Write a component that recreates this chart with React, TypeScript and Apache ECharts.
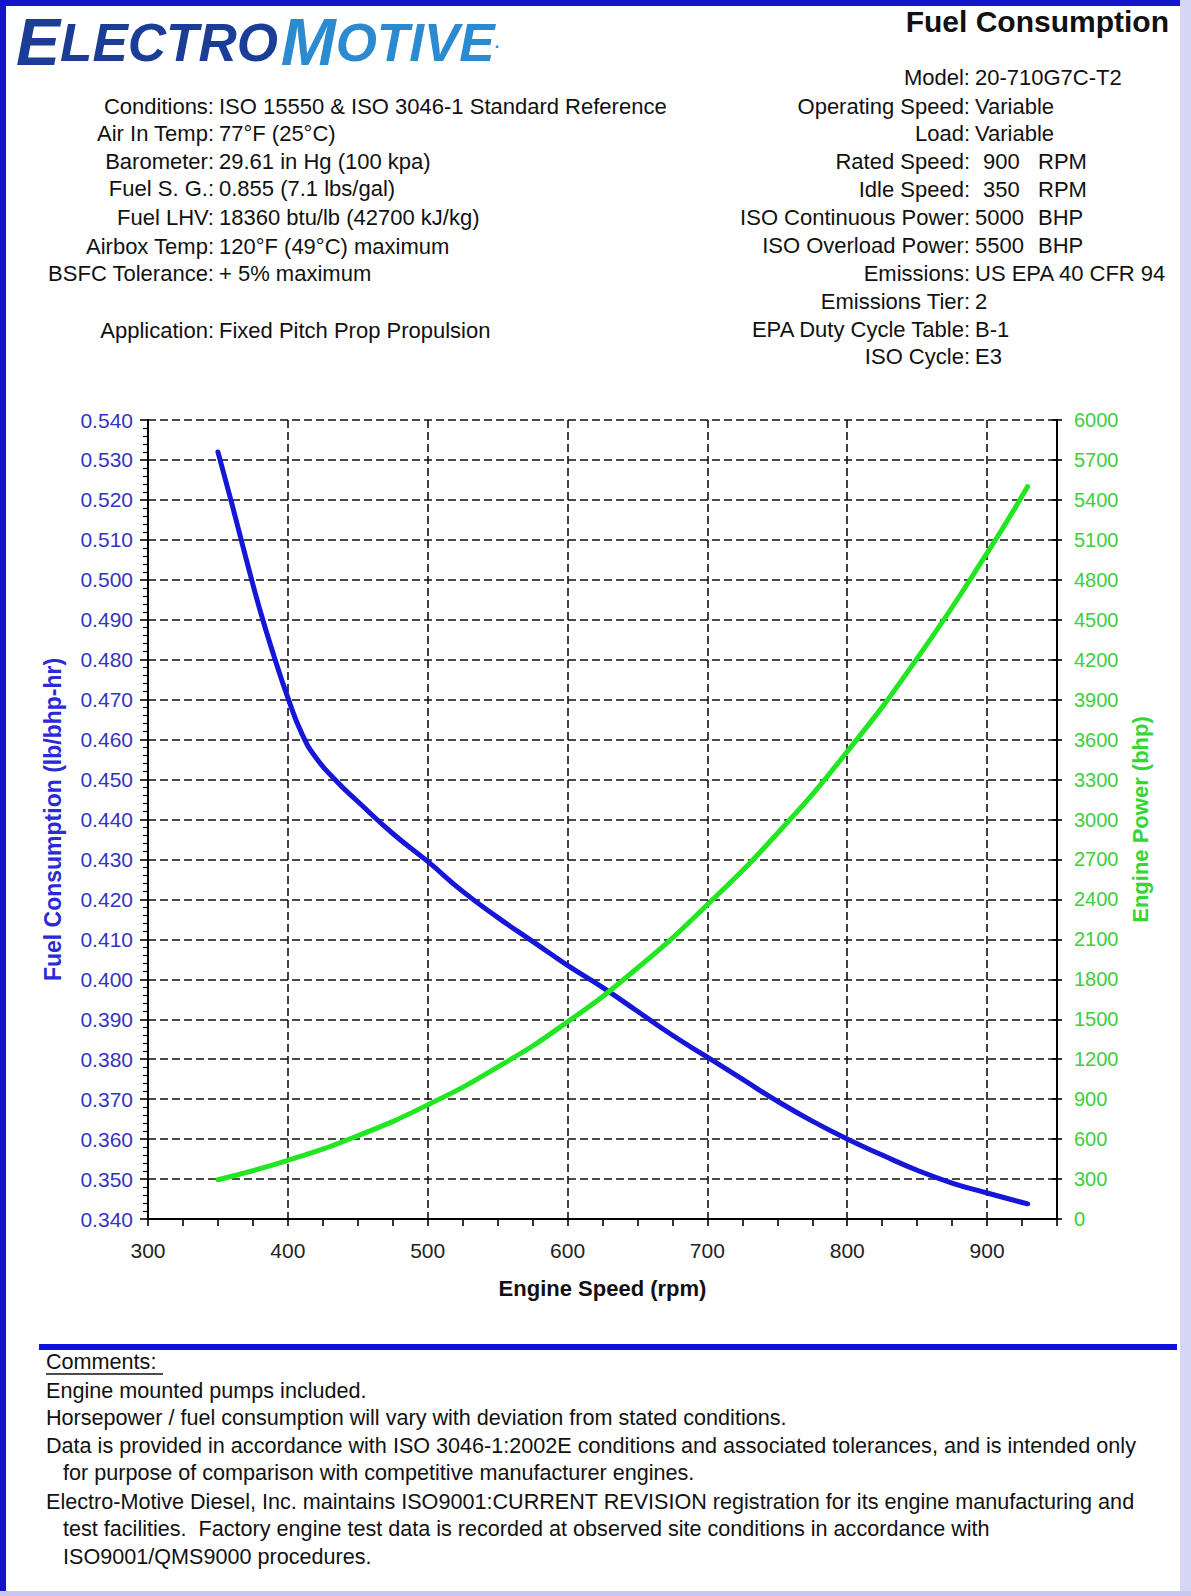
import React, { useEffect, useRef } from "react";
import * as echarts from "echarts";

// ---------- data ----------
const fuelRpm = [350, 360, 370, 380, 390, 400, 410, 420, 435, 450, 475, 500, 525, 550, 575, 600, 625, 650, 675, 700, 725, 750, 775, 800, 825, 850, 875, 900, 929];
const fuelBsfc = [0.532, 0.519, 0.5055, 0.4925, 0.481, 0.4705, 0.4615, 0.4555, 0.4495, 0.4445, 0.4365, 0.4295, 0.422, 0.4155, 0.4095, 0.4035, 0.398, 0.392, 0.386, 0.3805, 0.375, 0.3695, 0.3645, 0.36, 0.356, 0.3522, 0.349, 0.3465, 0.3438];
const powerRpm = [350, 400, 450, 500, 550, 600, 650, 700, 750, 800, 850, 900, 929];
const powerBhp = [295, 440, 625, 857, 1140, 1480, 1885, 2360, 2895, 3510, 4210, 5000, 5500];

const leftLabels = ["Conditions:", "Air In Temp:", "Barometer:", "Fuel S. G.:", "Fuel LHV:", "Airbox Temp:", "BSFC Tolerance:", "Application:"];
const leftValues = ["ISO 15550 & ISO 3046-1 Standard Reference", "77°F (25°C)", "29.61 in Hg (100 kpa)", "0.855 (7.1 lbs/gal)", "18360 btu/lb (42700 kJ/kg)", "120°F (49°C) maximum", "+ 5% maximum", "Fixed Pitch Prop Propulsion"];
const leftRowsY = [106, 133, 161, 188, 217, 246, 273, 330];

const rightLabels = ["Model:", "Operating Speed:", "Load:", "Rated Speed:", "Idle Speed:", "ISO Continuous Power:", "ISO Overload Power:", "Emissions:", "Emissions Tier:", "EPA Duty Cycle Table:", "ISO Cycle:"];
const rightValues = ["20-710G7C-T2", "Variable", "Variable", "900", "350", "5000", "5500", "US EPA 40 CFR 94", "2", "B-1", "E3"];
const rightUnits = ["", "", "", "RPM", "RPM", "BHP", "BHP", "", "", "", ""];
const rightRowsY = [77, 106, 133, 161, 189, 217, 245, 273, 301, 329, 356];

const comments = [
  "Engine mounted pumps included.",
  "Horsepower / fuel consumption will vary with deviation from stated conditions.",
  "Data is provided in accordance with ISO 3046-1:2002E conditions and associated tolerances, and is intended only",
  "for purpose of comparison with competitive manufacturer engines.",
  "Electro-Motive Diesel, Inc. maintains ISO9001:CURRENT REVISION registration for its engine manufacturing and",
  "test facilities.  Factory engine test data is recorded at observed site conditions in accordance with",
  "ISO9001/QMS9000 procedures.",
];
const commentIndent = [0, 0, 0, 1, 0, 1, 1];
const commentsY = [1390, 1417, 1445, 1472, 1501, 1528, 1556];

const FONT = '"Liberation Sans", Arial, Helvetica, sans-serif';

function txt(text: string, x: number, y: number, opts: any = {}) {
  const align = opts.align || "left";
  return {
    type: "text",
    x,
    y,
    silent: true,
    scaleX: opts.scaleX || 1,
    style: {
      text,
      fill: opts.fill || "#111",
      fontSize: opts.fontSize || 22,
      fontFamily: FONT,
      fontWeight: opts.fontWeight || "normal",
      align,
      textAlign: align,
      verticalAlign: "middle",
      textVerticalAlign: "middle",
    },
  };
}

export default function App() {
  const ref = useRef<HTMLDivElement>(null);

  useEffect(() => {
    if (!ref.current) return;
    const chart = echarts.init(ref.current, null, { renderer: "svg" });

    const graphics: any[] = [];
    // frame
    graphics.push({ type: "rect", shape: { x: 0, y: 0, width: 1191, height: 1596 }, style: { fill: "#ffffff" }, z: -10, silent: true });
    graphics.push({ type: "rect", shape: { x: 0, y: 0, width: 1181, height: 6 }, style: { fill: "#1414cc" }, silent: true });
    graphics.push({ type: "rect", shape: { x: 0, y: 0, width: 6, height: 1596 }, style: { fill: "#1414cc" }, silent: true });
    graphics.push({ type: "rect", shape: { x: 1180, y: 0, width: 11, height: 1596 }, style: { fill: "#d6d6f6" }, silent: true });
    graphics.push({ type: "rect", shape: { x: 0, y: 1591, width: 1191, height: 5 }, style: { fill: "#c8c8f0" }, silent: true });

    // logo
    const logoBase = { fontWeight: "bold", fontStyle: "italic", fontFamily: FONT, lineHeight: 60 };
    graphics.push({
      type: "text",
      x: 16,
      y: 42,
      silent: true,
      style: {
        text: "{a|E}{b|LECTRO}{c| }{d|M}{e|OTIVE}{f|.}",
        verticalAlign: "middle",
        textVerticalAlign: "middle",
        rich: {
          a: { ...logoBase, fontSize: 66, fill: "#1c3d96", color: "#1c3d96" },
          b: { ...logoBase, fontSize: 53, fill: "#1c3d96", color: "#1c3d96" },
          c: { fontSize: 10, fontFamily: FONT, lineHeight: 60 },
          d: { ...logoBase, fontSize: 66, fill: "#2c8ad0", color: "#2c8ad0" },
          e: { ...logoBase, fontSize: 53, fill: "#2c8ad0", color: "#2c8ad0" },
          f: { ...logoBase, fontSize: 16, fontStyle: "normal", fill: "#2c8ad0", color: "#2c8ad0" },
        },
      },
    });

    // title
    graphics.push(txt("Fuel Consumption", 1169, 21, { align: "right", fontSize: 30, fontWeight: "bold" }));

    // left info block
    leftLabels.forEach((l, i) => {
      graphics.push(txt(l, 214, leftRowsY[i], { align: "right" }));
      graphics.push(txt(leftValues[i], 219, leftRowsY[i]));
    });
    // right info block
    rightLabels.forEach((l, i) => {
      graphics.push(txt(l, 970, rightRowsY[i], { align: "right" }));
      if (rightUnits[i]) {
        const vx = rightValues[i].length === 3 ? 983 : 975;
        graphics.push(txt(rightValues[i], vx, rightRowsY[i]));
        graphics.push(txt(rightUnits[i], 1038, rightRowsY[i]));
      } else {
        graphics.push(txt(rightValues[i], 975, rightRowsY[i]));
      }
    });

    // separator and comments
    graphics.push({ type: "rect", shape: { x: 39, y: 1344, width: 1138, height: 6 }, style: { fill: "#1010dd" }, silent: true });
    graphics.push(txt("Comments:", 46, 1361, { fontSize: 21.6 }));
    graphics.push({ type: "line", shape: { x1: 46, y1: 1374, x2: 163, y2: 1374 }, style: { stroke: "#111", lineWidth: 1.5 }, silent: true });
    comments.forEach((c, i) => {
      graphics.push(txt(c, commentIndent[i] ? 63 : 46, commentsY[i], { fontSize: 21.6 }));
    });

    const dashed = { color: "#111", width: 1.6, type: [8, 4] };

    chart.setOption({
      animation: false,
      backgroundColor: "#ffffff",
      grid: { left: 148, top: 420, width: 909, height: 799, containLabel: false },
      graphic: { elements: graphics },
      xAxis: [
        {
          type: "value",
          min: 300,
          max: 950,
          interval: 100,
          position: "bottom",
          axisLine: { show: true, lineStyle: { color: "#000", width: 2 } },
          axisTick: { show: false },
          axisLabel: {
            formatter: (v: number) => (v === 950 ? "" : String(v)),
            fontSize: 21,
            color: "#222",
            fontFamily: FONT,
            margin: 21,
          },
          splitLine: { show: true, lineStyle: dashed },
          name: "Engine Speed (rpm)",
          nameLocation: "middle",
          nameGap: 58,
          nameTextStyle: { fontSize: 22, fontWeight: "bold", color: "#111", fontFamily: FONT },
        },
        {
          type: "value",
          min: 300,
          max: 950,
          interval: 25,
          position: "bottom",
          axisLine: { show: false },
          axisTick: { show: true, length: 7, lineStyle: { color: "#000", width: 1.6 } },
          axisLabel: { show: false },
          splitLine: { show: false },
        },
      ],
      yAxis: [
        {
          type: "value",
          min: 0.34,
          max: 0.54,
          interval: 0.01,
          position: "left",
          axisLine: { show: true, lineStyle: { color: "#000", width: 2 } },
          axisTick: { show: true, length: 8, lineStyle: { color: "#000", width: 1.6 } },
          minorTick: { show: true, splitNumber: 5, length: 5, lineStyle: { color: "#000", width: 1.2 } },
          axisLabel: {
            formatter: (v: number) => v.toFixed(3),
            fontSize: 21,
            color: "#3434c4",
            fontFamily: FONT,
            margin: 15,
          },
          splitLine: { show: true, lineStyle: dashed },
          name: "Fuel Consumption (lb/bhp-hr)",
          nameLocation: "middle",
          nameRotate: 90,
          nameGap: 84,
          nameTextStyle: { fontSize: 23, fontWeight: "bold", color: "#2a2ad6", fontFamily: FONT },
        },
        {
          type: "value",
          min: 0,
          max: 6000,
          interval: 300,
          position: "right",
          axisLine: { show: true, lineStyle: { color: "#000", width: 2 } },
          axisTick: { show: true, length: 5, lineStyle: { color: "#000", width: 1.6 } },
          axisLabel: { formatter: (v: number) => String(v), fontSize: 20, color: "#3ccf3c", fontFamily: FONT, margin: 17 },
          splitLine: { show: false },
          name: "Engine Power (bhp)",
          nameLocation: "middle",
          nameRotate: 90,
          nameGap: 72,
          nameTextStyle: { fontSize: 22, fontWeight: "bold", color: "#33d633", fontFamily: FONT },
        },
        {
          type: "value",
          min: 0,
          max: 6000,
          interval: 300,
          position: "right",
          axisLine: { show: false },
          axisTick: { show: true, inside: true, length: 5, lineStyle: { color: "#000", width: 1.6 } },
          axisLabel: { show: false },
          splitLine: { show: false },
        },
      ],
      series: [
        {
          name: "Fuel Consumption",
          type: "line",
          xAxisIndex: 0,
          yAxisIndex: 0,
          data: fuelRpm.map((r, i) => [r, fuelBsfc[i]]),
          smooth: 0.5,
          showSymbol: false,
          lineStyle: { color: "#1616d8", width: 5, cap: "round" },
          z: 3,
        },
        {
          name: "Engine Power",
          type: "line",
          xAxisIndex: 0,
          yAxisIndex: 1,
          data: powerRpm.map((r, i) => [r, powerBhp[i]]),
          smooth: 0.5,
          showSymbol: false,
          lineStyle: { color: "#22e622", width: 5, cap: "round" },
          z: 4,
        },
      ],
    });

    return () => chart.dispose();
  }, []);

  return (
    <div
      ref={ref}
      style={{ position: "absolute", left: 0, top: 0, width: 1191, height: 1596, background: "#fff" }}
    />
  );
}
